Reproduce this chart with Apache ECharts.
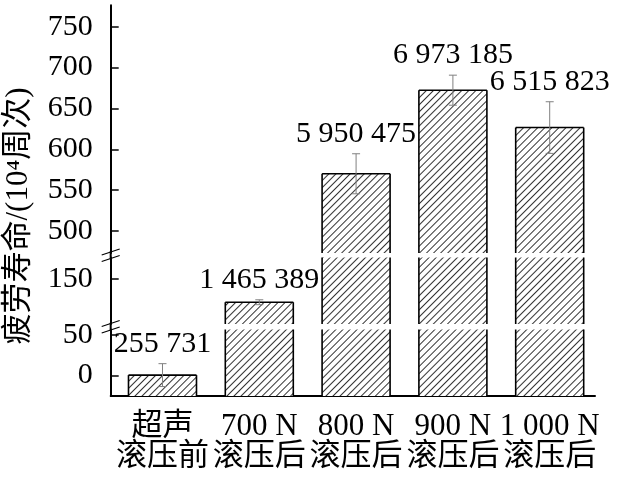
<!DOCTYPE html>
<html>
<head>
<meta charset="utf-8">
<script src="https://cdn.jsdelivr.net/npm/echarts@6/dist/echarts.min.js"></script>
<style>
html, body { margin: 0; padding: 0; background: #fff; }
#main { width: 618px; height: 483px; }
</style>
</head>
<body>
<div id="main"></div>
<script>
// 类别与数据（疲劳寿命，单位 10^4 周次）
var categories = ['超声\n滚压前', '700 N\n滚压后', '800 N\n滚压后', '900 N\n滚压后', '1 000 N\n滚压后'];
var lifeValues = [25.5731, 146.5389, 595.0475, 697.3185, 651.5823];
var lifeErrors = [14, 3, 24.5, 18.4, 31.6];
// 刻度标签（原图的刻度相对数值整体下移了约 25）
var topTicks = [500, 550, 600, 650, 700, 750];
var midTicks = [150];
var lowTicks = [0, 50];
var tickShift = 25;

var serif = '"Liberation Serif", "Noto Sans CJK SC"';
var barHalf = 34;
var axisX = 110.7;

// 断轴：三段
var segs = [
   {top: 5.3, height: 247.7, min: 498.1, max: 801.2, ticks: topTicks},
   {top: 257.5, height: 66.5, min: 119.9, max: 201.3, ticks: midTicks},
   {top: 329.5, height: 66.5, min: 0, max: 81.4, ticks: lowTicks}
];

function fmt(v) {
   var n = Math.round(v * 10000).toString();
   return n.replace(/\B(?=(\d{3})+(?!\d))/g, ' ');
}

function makeRender(lo, hi) {
   return function (params, api) {
      var i = api.value(0), v = api.value(1), e = api.value(2);
      if (v <= lo) return null;
      var c = api.coord([i, Math.min(v, hi)]);
      var yb = api.coord([i, lo])[1];
      var x0 = c[0] - barHalf, x1 = c[0] + barHalf;
      var edge = {stroke: '#000', lineWidth: 1.6};
      var kids = [
         {type: 'line', shape: {x1: x0, y1: yb, x2: x0, y2: c[1]}, style: edge},
         {type: 'line', shape: {x1: x1, y1: yb, x2: x1, y2: c[1]}, style: edge}
      ];
      if (v <= hi) {
         var t = api.coord([i, v + e])[1], b = api.coord([i, v - e])[1];
         var err = {stroke: '#808080', lineWidth: 1};
         kids.push({type: 'line', shape: {x1: x0, y1: c[1], x2: x1, y2: c[1]}, style: edge});
         kids.push({type: 'line', shape: {x1: c[0], y1: t, x2: c[0], y2: b}, style: err});
         kids.push({type: 'line', shape: {x1: c[0] - 4, y1: t, x2: c[0] + 4, y2: t}, style: err});
         kids.push({type: 'line', shape: {x1: c[0] - 4, y1: b, x2: c[0] + 4, y2: b}, style: err});
         kids.push({
            type: 'text', x: c[0], y: t - 20,
            style: {text: fmt(v), fill: '#000', font: '30px ' + serif,
               align: 'center', verticalAlign: 'middle', textAlign: 'center', textVerticalAlign: 'middle'}
         });
      }
      return {type: 'group', children: kids};
   };
}

var grids = [], xAxes = [], yAxes = [], series = [];
var barData = lifeValues.map(function (v, i) { return [i, v]; });
var errData = lifeValues.map(function (v, i) { return [i, v, lifeErrors[i]]; });

segs.forEach(function (s, k) {
   var last = k === segs.length - 1;
   grids.push({left: axisX, right: 23, top: s.top, height: s.height});
   xAxes.push({
      type: 'value', gridIndex: k, min: -0.535, max: 4.468,
      show: last,
      splitLine: {show: false},
      axisLine: {onZero: false, lineStyle: {color: '#000', width: 2}},
      axisTick: {inside: true, length: 7, lineStyle: {color: '#000', width: 1.5},
         customValues: [0, 1, 2, 3, 4]},
      axisLabel: {
         customValues: [0, 1, 2, 3, 4],
         formatter: function (v) { return categories[Math.round(v)]; },
         color: '#000', fontFamily: serif, fontSize: 31, lineHeight: 30, margin: 16
      }
   });
   var tv = s.ticks.map(function (t) { return t + tickShift; });
   yAxes.push({
      type: 'value', gridIndex: k, min: s.min, max: s.max,
      splitLine: {show: false},
      axisLine: {show: true, onZero: false, lineStyle: {color: '#000', width: 2}},
      axisTick: {inside: true, length: 8, lineStyle: {color: '#000', width: 1.5}, customValues: tv},
      axisLabel: {
         customValues: tv,
         formatter: function (v) { return String(Math.round(v - tickShift)); },
         color: '#000', fontFamily: serif, fontSize: 30, margin: 18
      }
   });
   series.push({
      type: 'bar', xAxisIndex: k, yAxisIndex: k, data: barData,
      barWidth: barHalf * 2, clip: true, silent: true,
      itemStyle: {
         color: '#fff', borderWidth: 0,
         decal: {symbol: 'rect', symbolSize: 1, color: '#333', dashArrayX: [1, 0], dashArrayY: [1, 3.7], rotation: -Math.PI / 4}
      }
   });
   series.push({
      type: 'custom', xAxisIndex: k, yAxisIndex: k, data: errData,
      encode: {x: 0, y: 1}, clip: false, silent: true, z: 5,
      renderItem: makeRender(s.min, s.max)
   });
});

// 断轴标记
var graphics = [];
[255.25, 326.75].forEach(function (gy) {
   graphics.push({type: 'line', shape: {x1: axisX, y1: gy - 4, x2: axisX, y2: gy + 4}, style: {stroke: '#000', lineWidth: 2}});
   [-3.3, 3.3].forEach(function (d) {
      graphics.push({type: 'line', z: 10, shape: {x1: axisX - 9, y1: gy + d + 3, x2: axisX + 9, y2: gy + d - 3},
         style: {stroke: '#000', lineWidth: 1.2}});
   });
});
graphics.push({
   type: 'text', x: 19, y: 216, rotation: Math.PI / 2,
   style: {text: '疲劳寿命/(10⁴周次)', fill: '#000', font: '31px ' + serif,
      align: 'center', verticalAlign: 'middle', textAlign: 'center', textVerticalAlign: 'middle'}
});

var chart = echarts.init(document.getElementById('main'));
chart.setOption({
   backgroundColor: '#fff',
   animation: false,
   grid: grids,
   xAxis: xAxes,
   yAxis: yAxes,
   series: series,
   graphic: graphics
});
</script>
</body>
</html>
